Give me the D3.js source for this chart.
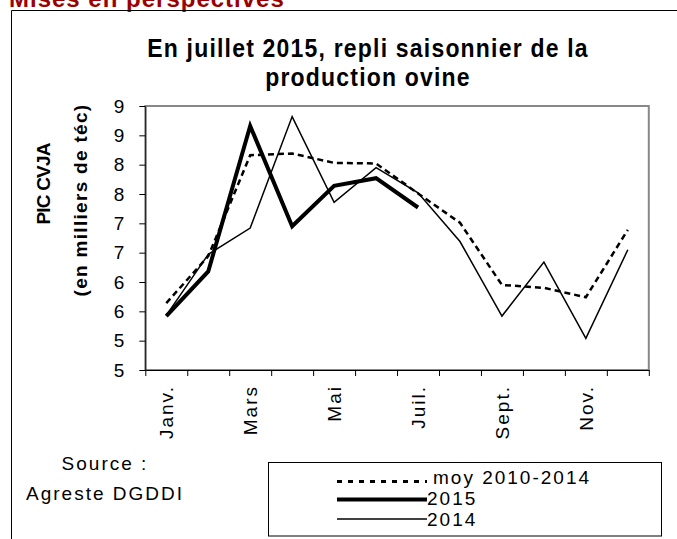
<!DOCTYPE html>
<html lang="fr">
  <head>
    <meta charset="UTF-8">
    <title>Production ovine</title>
    <script src="https://d3js.org/d3.v7.min.js"></script>
    <style>
      body { margin: 0; background: #fff; }
      svg { display: block; font-family: "Liberation Sans", Arial, sans-serif; }
    </style>
  </head>
  <body>

<script>
  // data (milliers de téc)
  const months = ["Janv.", "Févr.", "Mars", "Avr.", "Mai", "Juin", "Juil.", "Août", "Sept.", "Oct.", "Nov.", "Déc."];
  const moy = [5.64, 6.44, 8.16, 8.19, 8.03, 8.02, 7.51, 7.01, 5.95, 5.90, 5.74, 6.89];
  const y2015 = [5.42, 6.18, 8.66, 6.95, 7.64, 7.77, 7.27];
  const y2014 = [5.43, 6.47, 6.92, 8.82, 7.36, 7.95, 7.52, 6.69, 5.42, 6.34, 5.04, 6.55];
  const yTicks = [4.5, 5, 5.5, 6, 6.5, 7, 7.5, 8, 8.5, 9];
  const yTickLabels = ["5", "5", "6", "6", "7", "7", "8", "8", "9", "9"];

  const series = [
    { name: "moy 2010-2014", values: moy, width: 2.5, dash: "6,4" },
    { name: "2015", values: y2015, width: 4, dash: null },
    { name: "2014", values: y2014, width: 1.5, dash: null }
  ];

  const w = 677;
  const h = 539;
  const plotLeft = 145.3, plotRight = 648.8, plotTop = 106, plotBottom = 370;

  const svg = d3.select("body")
                .append("svg")
                .attr("width", w)
                .attr("height", h);

  // section header, cut at the top of the page as in the source
  svg.append("text")
     .attr("x", 9)
     .attr("y", 7)
     .attr("fill", "#990000")
     .attr("font-weight", "bold")
     .attr("font-size", 24)
     .attr("letter-spacing", 1)
     .text("Mises en perspectives");

  // outer frame
  svg.append("path")
     .attr("d", `M11.5,${h} V10.5 H${w}`)
     .attr("fill", "none")
     .attr("stroke", "#000");

  // title (glyphs a bit taller than wide, like the source)
  const title = svg.append("text")
     .attr("transform", "translate(368,57) scale(1,1.12)")
     .attr("text-anchor", "middle")
     .attr("font-weight", "bold")
     .attr("font-size", 23)
     .attr("letter-spacing", 1.2);
  title.append("tspan").attr("x", 0).attr("y", 0).text("En juillet 2015, repli saisonnier de la");
  title.append("tspan").attr("x", 0).attr("y", 26).text("production ovine");

  const xBand = d3.scaleBand().domain(months).range([plotLeft, plotRight]);
  const xEdge = d3.scaleLinear().domain([0, months.length]).range([plotLeft, plotRight]);
  const yScale = d3.scaleLinear().domain([4.5, 9]).range([plotBottom, plotTop]);

  // plot area border
  svg.append("rect")
     .attr("x", plotLeft)
     .attr("y", plotTop)
     .attr("width", plotRight - plotLeft)
     .attr("height", plotBottom - plotTop)
     .attr("fill", "none")
     .attr("stroke", "#888")
     .attr("stroke-width", 2);

  const yAxis = d3.axisLeft(yScale)
                  .tickValues(yTicks)
                  .tickFormat((d, i) => yTickLabels[i])
                  .tickSize(6)
                  .tickSizeOuter(0)
                  .tickPadding(15);
  const gy = svg.append("g")
     .attr("transform", `translate(${plotLeft},0)`)
     .call(yAxis);
  gy.selectAll("text").attr("font-size", 19).attr("fill", "#000").attr("font-family", null);

  const xAxisTicks = d3.axisBottom(xEdge)
                       .tickValues(d3.range(months.length + 1))
                       .tickFormat("")
                       .tickSize(6)
                       .tickSizeOuter(0);
  svg.append("g")
     .attr("transform", `translate(0,${plotBottom})`)
     .call(xAxisTicks);

  const xAxisLabels = d3.axisBottom(xBand)
                        .tickSize(0)
                        .tickFormat((d, i) => i % 2 === 0 ? d : "");
  const gx = svg.append("g")
     .attr("transform", `translate(0,${plotBottom})`)
     .call(xAxisLabels);
  gx.select(".domain").remove();
  gx.selectAll("text")
    .attr("font-size", 19)
    .attr("letter-spacing", 2)
    .attr("fill", "#000")
    .attr("font-family", null)
    .attr("text-anchor", "end")
    .attr("transform", "rotate(-90)")
    .attr("x", -15)
    .attr("y", 0)
    .attr("dy", "0.36em");

  svg.selectAll(".domain, .tick line").attr("stroke", "#000");

  // y axis title
  svg.append("text")
     .attr("transform", "translate(50,184) rotate(-90)")
     .attr("text-anchor", "middle")
     .attr("font-weight", "bold")
     .attr("font-size", 19)
     .attr("letter-spacing", -0.8)
     .text("PIC CVJA");
  svg.append("text")
     .attr("transform", "translate(87,200) rotate(-90)")
     .attr("text-anchor", "middle")
     .attr("font-weight", "bold")
     .attr("font-size", 19)
     .attr("letter-spacing", 1.3)
     .text("(en milliers de téc)");

  const line = d3.line()
                 .x((d, i) => xBand(months[i]) + xBand.bandwidth() / 2)
                 .y(d => yScale(d));

  svg.selectAll(".serie")
     .data(series)
     .enter()
     .append("path")
     .attr("class", "serie")
     .attr("d", d => line(d.values))
     .attr("fill", "none")
     .attr("stroke", "#000")
     .attr("stroke-width", d => d.width)
     .attr("stroke-dasharray", d => d.dash);

  // source
  const src = svg.append("text")
     .attr("text-anchor", "middle")
     .attr("font-size", 19)
     .attr("letter-spacing", 2);
  src.append("tspan").attr("x", 105).attr("y", 470).text("Source :");
  src.append("tspan").attr("x", 105).attr("y", 500).text("Agreste DGDDI");

  // legend
  svg.append("rect")
     .attr("x", 268.5)
     .attr("y", 462.5)
     .attr("width", 393)
     .attr("height", 73.5)
     .attr("fill", "none")
     .attr("stroke", "#000");

  const lineY = [481.5, 499.5, 519];
  const textY = [484, 505, 525.5];
  const leg = svg.selectAll(".leg")
     .data(series)
     .enter()
     .append("g")
     .attr("class", "leg");
  leg.append("line")
     .attr("x1", 337)
     .attr("x2", 427)
     .attr("y1", (d, i) => lineY[i])
     .attr("y2", (d, i) => lineY[i])
     .attr("stroke", "#000")
     .attr("stroke-width", d => d.width + (d.dash ? 0.5 : 0))
     .attr("stroke-dasharray", d => d.dash ? "5,6" : null);
  leg.append("text")
     .attr("x", (d, i) => i === 0 ? 433 : 427)
     .attr("y", (d, i) => textY[i])
     .attr("font-size", 19)
     .attr("letter-spacing", 2)
     .text(d => d.name);
</script>

  </body>
</html>
